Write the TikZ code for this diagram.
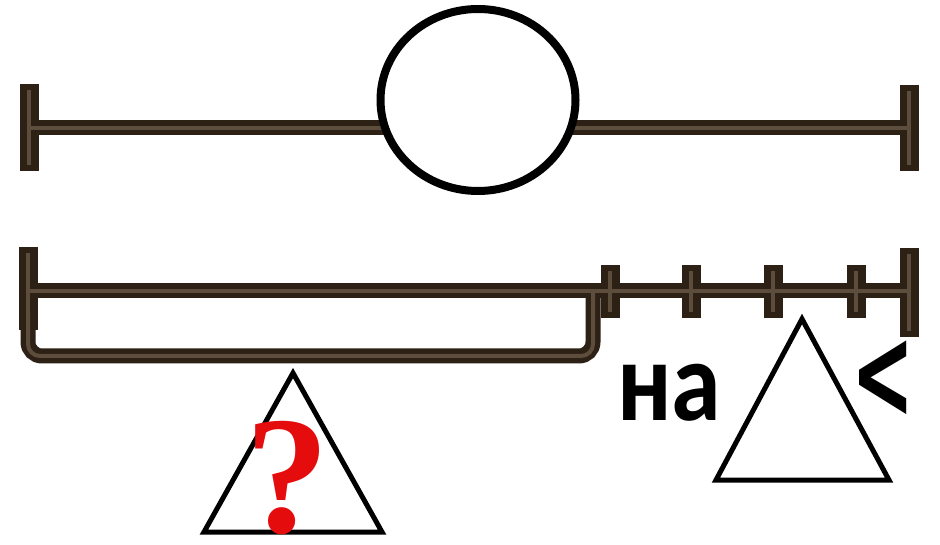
\documentclass[tikz,border=0pt]{standalone}
\usepackage{fontspec}
\newfontfamily\signfont{Carlito}
\newfontfamily\lessfont{DejaVu Sans}
\newfontfamily\quesfont{Liberation Serif}
\definecolor{BarDark}{RGB}{45,32,20}
\definecolor{BarMid}{RGB}{92,77,60}
\definecolor{QuesRed}{RGB}{228,12,12}
\usetikzlibrary{calc}

\begin{document}
\begin{tikzpicture}[x=1pt, y=-1pt,
    barouter/.style={draw=BarDark, line width=15pt},
    barinner/.style={draw=BarMid, line width=4pt},
    tickouter/.style={draw=BarDark, line width=19pt},
    tickinner/.style={draw=BarMid, line width=4pt},
    figline/.style={draw=black, line width=5pt, line join=miter},
    signtext/.style={inner sep=0pt, xscale=0.88, font=\signfont\bfseries\fontsize{114}{114}\selectfont}]

  \useasboundingbox (0,0) rectangle (940,545);

  % Top bar ends
  \coordinate (topL) at (29,128);
  \coordinate (topR) at (909,128);

  % Lower bar ends and bracket corner
  \coordinate (lowL) at (28,291);
  \coordinate (lowR) at (909,291);
  \coordinate (brk) at (593,291);

  % Dark outline of both bars
  \draw[barouter] (topL) -- (topR);
  \draw[tickouter] (29,84) -- (29,171);
  \draw[tickouter] (909,85) -- (909,171);

  \draw[barouter] (lowL) -- (lowR);
  \draw[tickouter] (28,247) -- (28,330);
  \draw[barouter, rounded corners=14pt]
        (28,310) -- (28,356) -- (593,356) -- (brk);
  \draw[tickouter] (909,248) -- (909,337);

  \foreach \tx in {610,691,773,856}
    \draw[tickouter] (\tx,265) -- (\tx,318);

  % Lighter core of both bars
  \draw[barinner] (topL) -- (topR);
  \draw[tickinner] (29,90) -- (29,165);
  \draw[tickinner] (909,91) -- (909,165);

  \draw[barinner] (lowL) -- (lowR);
  \draw[tickinner] (28,253) -- (28,330);
  \draw[barinner, rounded corners=12pt]
        (28,310) -- (28,356) -- (593,356) -- (brk);
  \draw[tickinner] (909,254) -- (909,331);

  \foreach \tx in {610,691,773,856}
    \draw[tickinner] (\tx,271) -- (\tx,312);

  % Circle on the top bar
  \draw[line width=8pt, fill=white]
        (478,100) ellipse [x radius=97.5pt, y radius=91pt];

  % Triangle under the bracket
  \coordinate (triA) at (293,373);
  \draw[figline]
        (triA) -- (204,532) -- (382,532) -- cycle;

  \node[QuesRed, inner sep=0pt, anchor=base,
        font=\quesfont\bfseries\fontsize{168}{168}\selectfont]
        (ques) at (287,532) {?};

  % Triangle on the right
  \coordinate (triB) at (802,319);
  \draw[figline]
        (triB) -- (716,480) -- (889,480) -- cycle;

  \node[signtext, anchor=base west] (na) at (617,420) {на};
  \node[inner sep=0pt, anchor=base west, xscale=0.58,
        font=\lessfont\bfseries\fontsize{130}{130}\selectfont]
        (lessthan) at (851,418) {<};

\end{tikzpicture}
\end{document}
